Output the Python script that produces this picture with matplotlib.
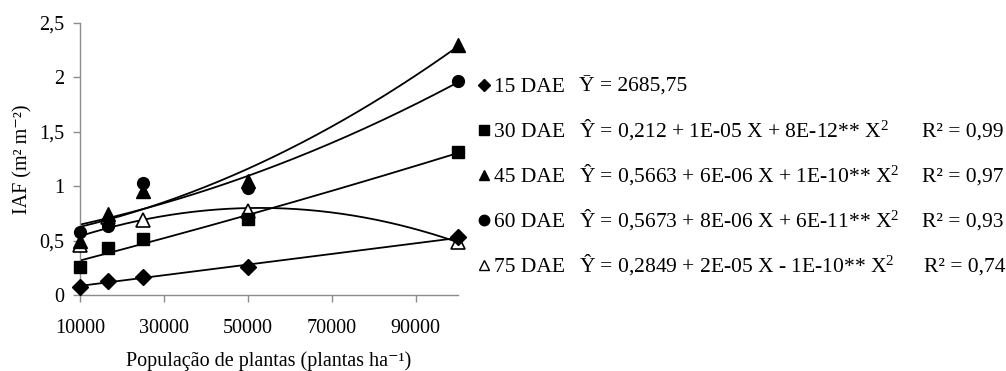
import numpy as np
import matplotlib
matplotlib.use("Agg")
import matplotlib.pyplot as plt
from matplotlib.lines import Line2D

plt.rcParams["font.family"] = ["Liberation Serif", "DejaVu Serif"]
plt.rcParams["mathtext.fontset"] = "custom"
plt.rcParams["mathtext.rm"] = "Liberation Serif"
plt.rcParams["mathtext.it"] = "Liberation Serif"
plt.rcParams["mathtext.default"] = "rm"

# Plant population (plants per hectare)
populacao = [10000, 16667, 25000, 50000, 100000]

# Leaf area index per sampling date
iaf_15 = [0.074, 0.13, 0.165, 0.26, 0.53]
iaf_30 = [0.26, 0.43, 0.51, 0.70, 1.31]
iaf_45 = [0.50, 0.74, 0.96, 1.05, 2.30]
iaf_60 = [0.58, 0.63, 1.03, 0.98, 1.97]
iaf_75 = [0.46, 0.72, 0.69, 0.77, 0.49]

rotulos = ["15 DAE", "30 DAE", "45 DAE", "60 DAE", "75 DAE"]
equacoes = [
    "\u0232 = 2685,75",
    "\u0176 = 0,212 + 1E-05 X + 8E-12** X$^{2}$",
    "\u0176 = 0,5663 + 6E-06 X + 1E-10** X$^{2}$",
    "\u0176 = 0,5673 + 8E-06 X + 6E-11** X$^{2}$",
    "\u0176 = 0,2849 + 2E-05 X - 1E-10** X$^{2}$",
]
r2 = ["", "R\u00b2 = 0,99", "R\u00b2 = 0,97", "R\u00b2 = 0,93", "R\u00b2 = 0,74"]
graus = [1, 2, 2, 2, 2]

x_ticks = [10000, 30000, 50000, 70000, 90000]
y_ticks = [0, 0.5, 1, 1.5, 2, 2.5]
y_ticklabels = ["0", "0,5", "1", "1,5", "2", "2,5"]

series = [iaf_15, iaf_30, iaf_45, iaf_60, iaf_75]
estilos = [
    dict(marker="D", ms=8.5, mfc="black", mec="black", zorder=4),
    dict(marker="s", ms=8, mfc="black", mec="black", zorder=4),
    dict(marker="^", ms=9.5, mfc="black", mec="black", zorder=4),
    dict(marker="o", ms=8.5, mfc="black", mec="black", zorder=4),
    dict(marker="^", ms=9.5, mfc="white", mec="black", mew=1.2, zorder=3),
]
estilos_leg = [
    dict(marker="D", ms=6, mfc="black", mec="black"),
    dict(marker="s", ms=7, mfc="black", mec="black"),
    dict(marker="^", ms=7.5, mfc="black", mec="black"),
    dict(marker="o", ms=7.5, mfc="black", mec="black"),
    dict(marker="^", ms=7.5, mfc="white", mec="black", mew=1.0),
]

fig = plt.figure(figsize=(10.06, 3.71), dpi=100)
ax = fig.add_axes([0.0795, 0.205, 0.3755, 0.733])

x = np.array(populacao, dtype=float)
xx = np.linspace(10000, 100000, 300)

# Trend lines (least-squares polynomial fits)
for ys, g in zip(series, graus):
    coef = np.polyfit(x, np.array(ys), g)
    ax.plot(xx, np.polyval(coef, xx), color="black", lw=1.3, zorder=2)

for ys, st in zip(series, estilos):
    ax.plot(x, ys, linestyle="none", clip_on=False, **st)

ax.set_xlim(10000, 100000)
ax.set_ylim(0, 2.5)
ax.set_xticks(x_ticks)
ax.set_xticklabels([str(v) for v in x_ticks])
ax.set_yticks(y_ticks)
ax.set_yticklabels(y_ticklabels)
for s in ["top", "right"]:
    ax.spines[s].set_visible(False)
for s in ["left", "bottom"]:
    ax.spines[s].set_color("#8c8c8c")
    ax.spines[s].set_linewidth(1.0)
ax.tick_params(axis="both", colors="#8c8c8c", labelcolor="black",
               labelsize=14.5, length=5, width=1.0, direction="out")
ax.tick_params(axis="x", pad=12)
ax.tick_params(axis="y", pad=6)

ax.set_xlabel("Popula\u00e7\u00e3o de plantas (plantas ha\u207b\u00b9)", fontsize=14.5, labelpad=10)
ax.set_ylabel("IAF (m\u00b2 m\u207b\u00b2)", fontsize=14.5, labelpad=5)

# Legend with fitted equations
W, H = 1006.0, 371.0
linhas_y = [85, 130, 175, 220, 265]
for i in range(5):
    yf = 1 - linhas_y[i] / H
    yb = 1 - (linhas_y[i] + 7) / H
    fig.add_artist(Line2D([484 / W], [yf], transform=fig.transFigure,
                          linestyle="none", **estilos_leg[i]))
    fig.text(494 / W, yb, rotulos[i], fontsize=15.5, va="baseline", ha="left")
    fig.text(579 / W, yb, equacoes[i], fontsize=15.5, va="baseline", ha="left")
    if r2[i]:
        xr = 922 if i < 4 else 924
        fig.text(xr / W, yb, r2[i], fontsize=15.5, va="baseline", ha="left")

fig.savefig("out.png", dpi=100)
